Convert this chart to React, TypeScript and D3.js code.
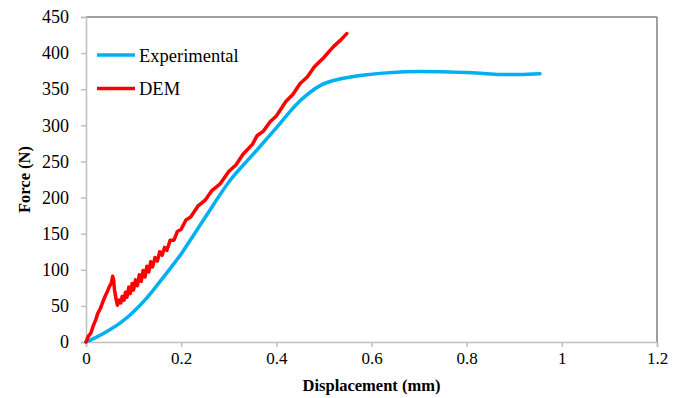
import { useEffect, useRef } from "react";
import * as d3 from "d3";

type Pt = [number, number];

// displacement (mm), force (N)
const experimental: Pt[] = [
  [0, 0], [0.02, 6], [0.05, 17], [0.075, 28], [0.1, 42], [0.125, 59], [0.15, 79],
  [0.19, 113], [0.2, 122], [0.25, 172], [0.303, 224], [0.35, 259], [0.394, 292],
  [0.45, 334], [0.492, 355], [0.52, 362], [0.576, 369], [0.66, 374], [0.765, 374],
  [0.82, 372.5], [0.87, 370.5], [0.91, 370.5], [0.954, 371.5],
];

const dem: Pt[] = [
  [0, 0], [0.005, 8], [0.01, 12], [0.015, 22], [0.02, 30], [0.025, 40], [0.03, 46],
  [0.035, 55], [0.04, 63], [0.045, 70], [0.05, 78], [0.053, 81], [0.056, 91],
  [0.058, 86], [0.06, 72], [0.063, 60], [0.066, 51], [0.07, 58], [0.073, 54],
  [0.076, 63], [0.08, 58], [0.083, 69], [0.086, 62], [0.09, 76], [0.093, 67],
  [0.097, 81], [0.1, 72], [0.104, 86], [0.108, 78], [0.112, 93], [0.116, 84],
  [0.12, 99], [0.124, 90], [0.128, 105], [0.132, 97], [0.136, 111], [0.14, 104],
  [0.145, 117], [0.15, 112], [0.155, 125], [0.16, 120], [0.165, 131], [0.17, 127],
  [0.177, 141], [0.185, 141], [0.192, 153], [0.2, 156], [0.21, 169], [0.22, 173],
  [0.235, 188], [0.25, 196], [0.265, 210], [0.282, 219], [0.3, 236], [0.315, 245],
  [0.33, 260], [0.35, 274], [0.36, 286], [0.373, 292], [0.387, 305], [0.4, 313],
  [0.42, 333], [0.435, 343], [0.45, 358], [0.465, 367], [0.48, 381], [0.5, 394],
  [0.52, 409], [0.535, 418], [0.548, 427],
];

const xTicks = [0, 0.2, 0.4, 0.6, 0.8, 1, 1.2];
const yTicks = [0, 50, 100, 150, 200, 250, 300, 350, 400, 450];

const series = [
  { name: "Experimental", color: "#00b0f0", data: experimental },
  { name: "DEM", color: "#ff0000", data: dem },
];

const FONT = '"Liberation Serif", "Times New Roman", Times, serif';

export default function App() {
  const svgRef = useRef<SVGSVGElement>(null);

  useEffect(() => {
    const svg = d3.select(svgRef.current);
    svg.selectAll("*").remove();

    const left = 86, right = 657, top = 17, bottom = 342;
    const x = d3.scaleLinear().domain([0, 1.2]).range([left, right]);
    const y = d3.scaleLinear().domain([0, 450]).range([bottom, top]);

    // frame top/right
    svg.append("line").attr("x1", left).attr("x2", right).attr("y1", top).attr("y2", top)
      .attr("stroke", "#808080").attr("stroke-width", 1.5);
    svg.append("line").attr("x1", right).attr("x2", right).attr("y1", top).attr("y2", bottom)
      .attr("stroke", "#808080").attr("stroke-width", 1.5);

    // axes
    svg.append("g").attr("transform", `translate(0,${bottom})`)
      .call(d3.axisBottom(x).tickValues(xTicks).tickSize(5).tickPadding(5).tickFormat(d => String(d)))
      .call(ax => ax.attr("font-family", null))
      .call(ax => ax.select(".domain").attr("stroke", "#bfbfbf").attr("stroke-width", 1.5))
      .call(ax => ax.selectAll(".tick line").attr("stroke", "#bfbfbf").attr("stroke-width", 1.5))
      .call(ax => ax.selectAll(".tick text").attr("fill", "#000").attr("font-size", 17)
        .style("font-family", FONT));

    svg.append("g").attr("transform", `translate(${left},0)`)
      .call(d3.axisLeft(y).tickValues(yTicks).tickSize(5).tickPadding(12))
      .call(ax => ax.attr("font-family", null))
      .call(ax => ax.select(".domain").attr("stroke", "#bfbfbf").attr("stroke-width", 1.5))
      .call(ax => ax.selectAll(".tick line").attr("stroke", "#bfbfbf").attr("stroke-width", 1.5))
      .call(ax => ax.selectAll(".tick text").attr("fill", "#000").attr("font-size", 18)
        .style("font-family", FONT));

    // titles
    svg.append("text").attr("x", (left + right) / 2).attr("y", 391)
      .attr("text-anchor", "middle").attr("font-size", 16.5).attr("font-weight", "bold")
      .style("font-family", FONT).text("Displacement (mm)");
    svg.append("text").attr("transform", `translate(30,${(top + bottom) / 2}) rotate(-90)`)
      .attr("text-anchor", "middle").attr("font-size", 16.5).attr("font-weight", "bold")
      .style("font-family", FONT).text("Force (N)");

    // lines
    series.forEach(s => {
      const line = d3.line<Pt>().x(d => x(d[0])).y(d => y(d[1]))
        .curve(s.name === "DEM" ? d3.curveLinear : d3.curveCatmullRom.alpha(0.5));
      svg.append("path").datum(s.data)
        .attr("d", line)
        .attr("fill", "none").attr("stroke", s.color).attr("stroke-width", 3.5)
        .attr("stroke-linejoin", "round").attr("stroke-linecap", "round");
    });

    // legend
    series.forEach((s, i) => {
      const ly = 55 + i * 33.5;
      svg.append("line").attr("x1", 97).attr("x2", 135).attr("y1", ly).attr("y2", ly)
        .attr("stroke", s.color).attr("stroke-width", 3.5);
      svg.append("text").attr("x", 139).attr("y", ly + 6.5).attr("font-size", 18.5)
        .style("font-family", FONT).attr("fill", "#000").text(s.name);
    });
  }, []);

  return (
    <>
      <style>{`body{margin:0}`}</style>
      <svg ref={svgRef} width={684} height={398} style={{ display: "block", background: "#fff", fontFamily: FONT }} />
    </>
  );
}
